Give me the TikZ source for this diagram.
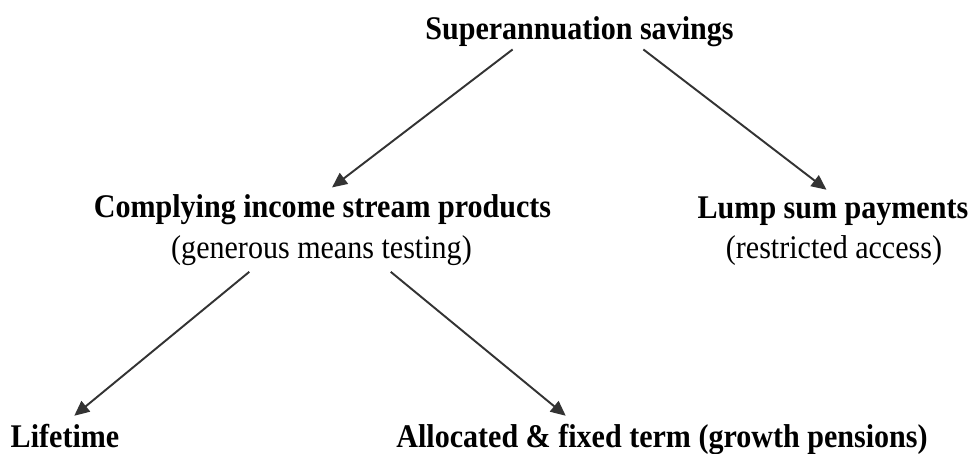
\documentclass[tikz,border=0pt]{standalone}
\usepackage{fontspec}
\setmainfont{Liberation Serif}[FakeStretch=0.91]
\usetikzlibrary{arrows.meta}

\begin{document}
\begin{tikzpicture}[>={Triangle[length=0.3cm,width=0.27cm]},
	title/.style={font=\fontsize{18.8}{22}\selectfont\bfseries, inner sep=0pt, anchor=base},
	note/.style={font=\fontsize{18.8}{22}\selectfont, inner sep=0pt, anchor=base},
	link/.style={->, line width=1.1pt, black!80, shorten >=0.24cm}]
	\useasboundingbox (0,0) rectangle (19.4,9.06);
	\node [title] (super) at (11.59,8.26) {Superannuation savings};
	\node [title] (comply) at (6.45,4.70) {Complying income stream products};
	\node [note] (means) at (6.43,3.90) {(generous means testing)};
	\node [title] (lump) at (16.66,4.68) {Lump sum payments};
	\node [note] (access) at (16.68,3.90) {(restricted access)};
	\node [title] (life) at (1.30,0.12) {Lifetime};
	\node [title] (alloc) at (13.24,0.12) {Allocated \& fixed term (growth pensions)};
	\draw [link, shorten <=0.06cm] ([xshift=-1.29cm]super.south) -- (comply.north);
	\draw [link, shorten <=0.06cm] ([xshift=1.23cm]super.south) -- ([xshift=0.06cm]lump.north);
	\draw [link, shorten <=0.2cm] ([xshift=-1.29cm]means.south) -- (life.north);
	\draw [link, shorten <=0.2cm] ([xshift=1.23cm]means.south) -- ([xshift=-1.74cm]alloc.north);
\end{tikzpicture}
\end{document}
